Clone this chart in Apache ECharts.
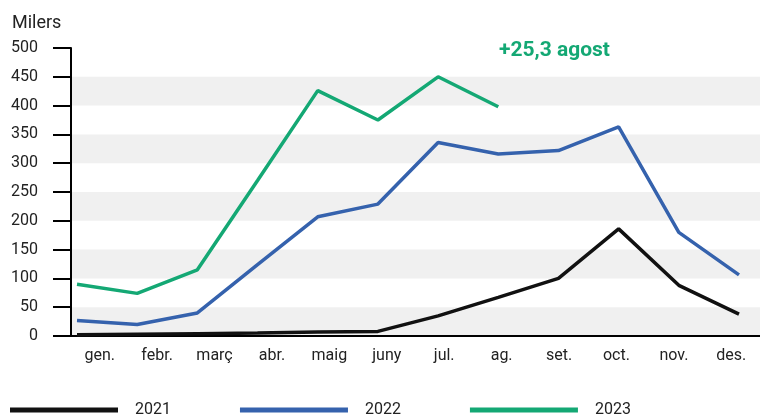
<!DOCTYPE html>
<html>
<head>
<meta charset="utf-8">
<script src="https://cdn.jsdelivr.net/npm/echarts@6/dist/echarts.min.js"></script>
<style>
  html, body { margin: 0; padding: 0; background: #fff; }
  #main { width: 760px; height: 414px; }
</style>
</head>
<body>
<div id="main"></div>
<script>
// mesos
var months = ['gen.', 'febr.', 'març', 'abr.', 'maig', 'juny', 'jul.', 'ag.', 'set.', 'oct.', 'nov.', 'des.'];
// milers
var data2021 = [2, 3, 4, 5, 7, 8, 35, 67, 100, 186, 88, 38];
var data2022 = [27, 20, 40, 124, 207, 229, 336, 316, 322, 363, 180, 106];
var data2023 = [90, 74, 115, 270, 426, 375, 450, 398];
var yTicks = [0, 50, 100, 150, 200, 250, 300, 350, 400, 450, 500];

var font = 'Roboto';
var cGreen = '#14a874';
var cBlue = '#3562ad';
var cBlack = '#111111';

var myChart = echarts.init(document.getElementById('main'));

var option = {
    animation: false,
    textStyle: { fontFamily: font },
    grid: [
        { left: 71, right: -2, top: 48, bottom: 78 },   // eixos i bandes
        { left: 77, right: 21, top: 48, bottom: 78 }    // línies
    ],
    xAxis: [{
        gridIndex: 0,
        type: 'category',
        data: months,
        boundaryGap: true,
        axisLine: { lineStyle: { color: '#000', width: 2 } },
        axisTick: { length: 18, interval: 0, lineStyle: { color: '#000', width: 2 } },
        axisLabel: { fontSize: 16, color: '#222', margin: 12, interval: 0 }
    }, {
        gridIndex: 1,
        type: 'category',
        data: months,
        boundaryGap: false,
        show: false
    }],
    yAxis: [{
        gridIndex: 0,
        type: 'value',
        min: 0,
        max: 500,
        interval: 50,
        axisLine: { show: true, lineStyle: { color: '#000', width: 2 } },
        axisTick: { show: true, length: 18, lineStyle: { color: '#000', width: 2 } },
        axisLabel: { fontSize: 16, color: '#222', margin: 33,
            formatter: function (v) { return yTicks.indexOf(v) >= 0 ? v : ''; } },
        splitLine: { show: false },
        splitArea: { show: true, areaStyle: { color: ['#f0f0f0', 'rgba(255,255,255,0)'] } }
    }, {
        gridIndex: 1,
        type: 'value',
        min: 0,
        max: 500,
        show: false,
        splitLine: { show: false }
    }],
    legend: {
        left: 10,
        top: 402,
        padding: 0,
        icon: 'rect',
        itemWidth: 108,
        itemHeight: 5,
        itemGap: 69,
        textStyle: { fontSize: 16, color: '#222', padding: [0, 0, 0, 12] },
        data: ['2021', '2022', '2023']
    },
    graphic: [{
        type: 'text',
        left: 12,
        top: 14,
        style: { text: 'Milers', font: '18px Roboto', fill: '#222' }
    }, {
        type: 'text',
        left: 499,
        top: 40,
        style: { text: '+25,3 agost', font: 'bold 21px Roboto', fill: cGreen }
    }],
    series: [{
        name: '2021',
        type: 'line',
        xAxisIndex: 1,
        yAxisIndex: 1,
        data: data2021,
        symbol: 'none',
        lineStyle: { color: cBlack, width: 3.5 },
        itemStyle: { color: cBlack }
    }, {
        name: '2022',
        type: 'line',
        xAxisIndex: 1,
        yAxisIndex: 1,
        data: data2022,
        symbol: 'none',
        lineStyle: { color: cBlue, width: 3.5 },
        itemStyle: { color: cBlue }
    }, {
        name: '2023',
        type: 'line',
        xAxisIndex: 1,
        yAxisIndex: 1,
        data: data2023,
        symbol: 'none',
        lineStyle: { color: cGreen, width: 3.5 },
        itemStyle: { color: cGreen }
    }]
};

myChart.setOption(option);
</script>
</body>
</html>
